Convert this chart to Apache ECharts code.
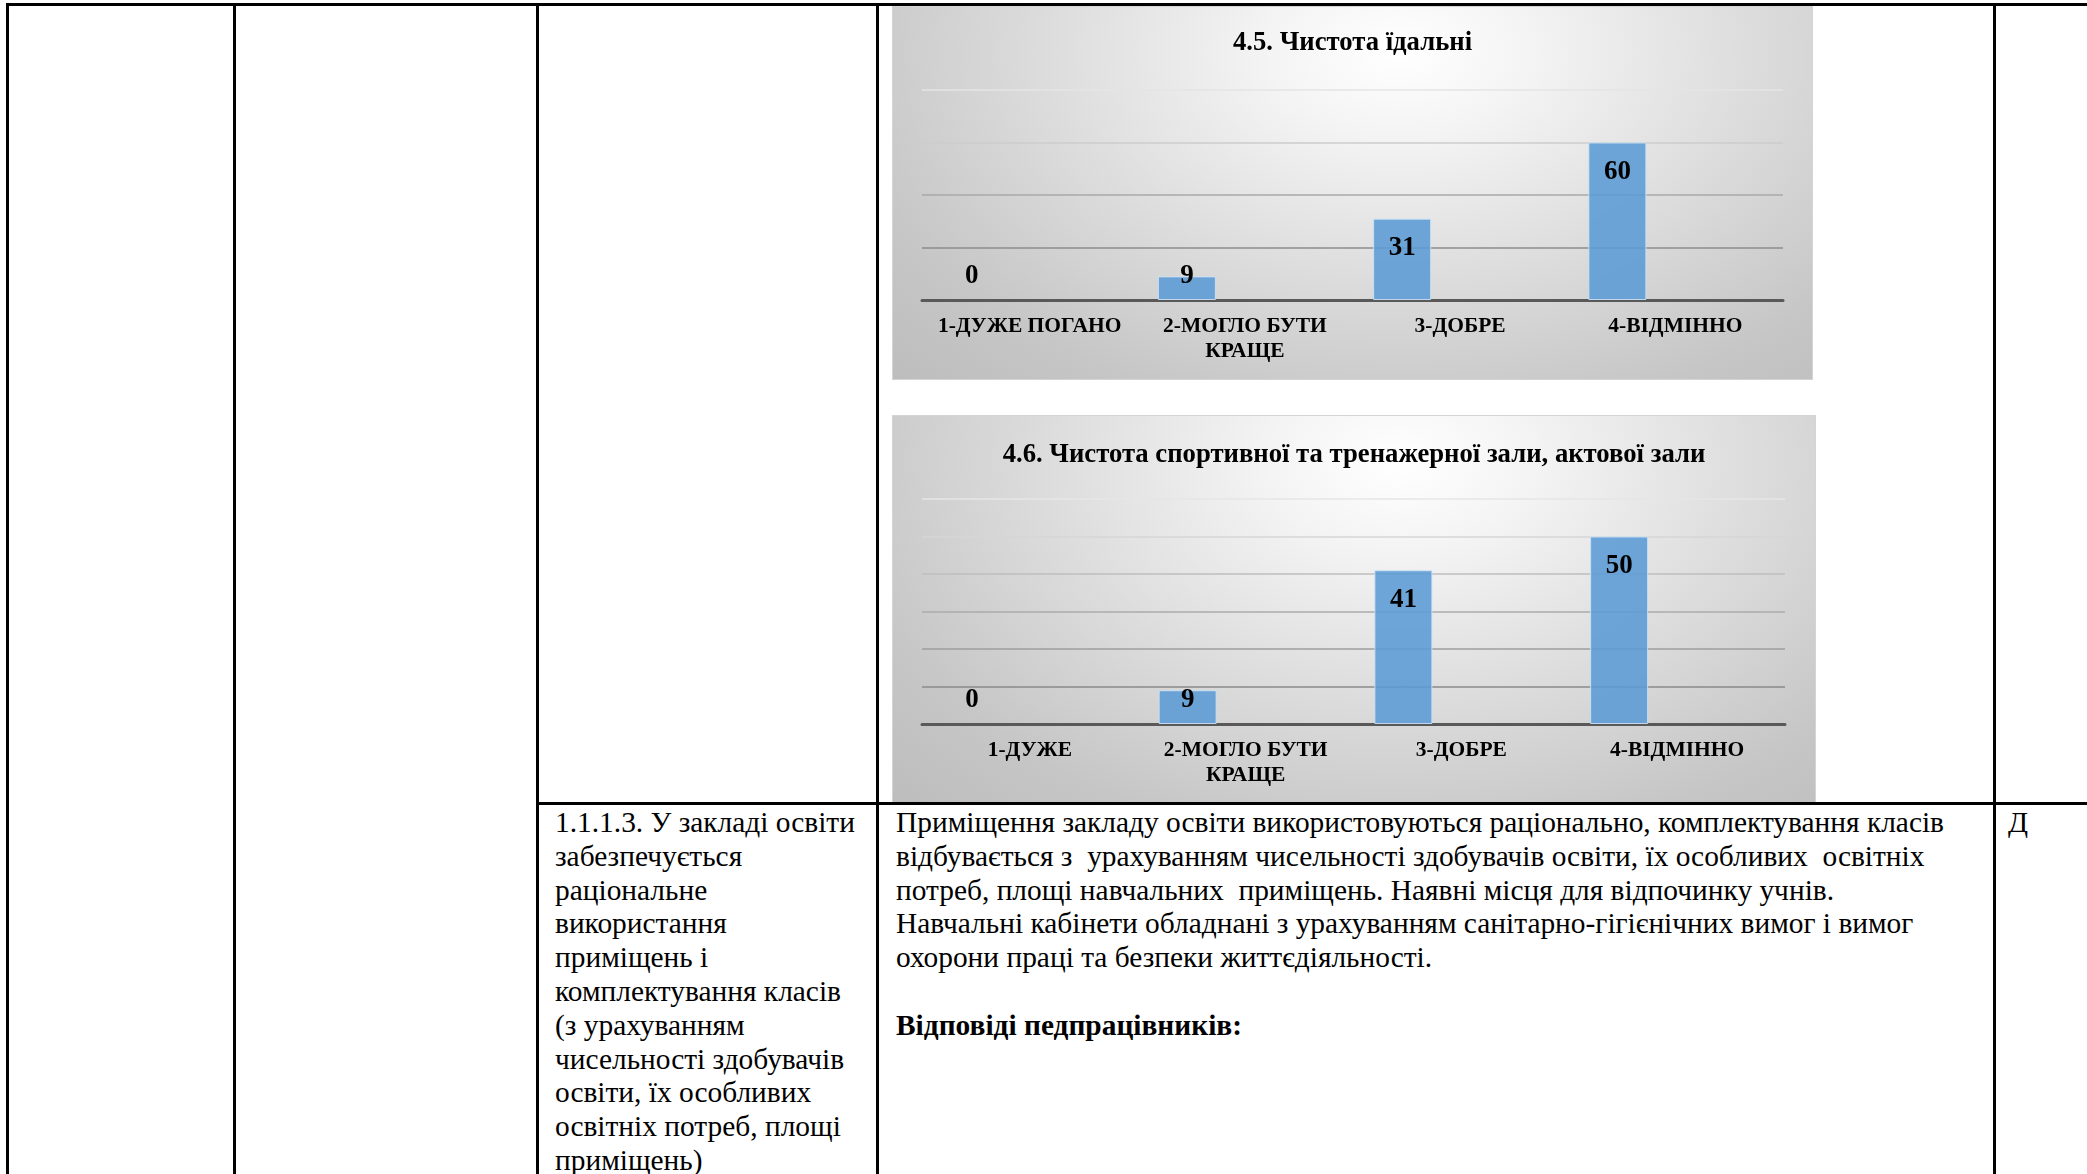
<!DOCTYPE html>
<html><head><meta charset="utf-8">
<script src="https://cdn.jsdelivr.net/npm/echarts@6/dist/echarts.min.js"></script>
<style>
html,body{margin:0;padding:0;background:#fff;width:2087px;height:1174px;overflow:hidden;position:relative;font-family:"Liberation Serif","Times New Roman",serif;}
.ln{position:absolute;background:#000;}
.bg{position:absolute;box-sizing:border-box;border:1px solid #d4d4d4;background:radial-gradient(ellipse farthest-corner at 55% 12%, #ffffff 0%, #f4f4f4 18%, #dcdcdc 50%, #c6c6c6 80%, #bdbdbd 100%);}
.ec{position:absolute;}
.txt{position:absolute;font-size:29.4px;line-height:33.8px;white-space:pre;color:#000;}
</style></head><body>

<div class="bg" style="left:892px;top:6px;width:921px;height:374px;"></div>
<div class="ec" id="c1" style="left:892px;top:6px;width:921px;height:374px;"></div>
<div class="bg" style="left:892px;top:415px;width:924px;height:388px;"></div>
<div class="ec" id="c2" style="left:892px;top:415px;width:924px;height:388px;"></div>

<div class="ln" style="left:6px;top:3px;width:2081px;height:3px;"></div>
<div class="ln" style="left:6px;top:3px;width:3px;height:1171px;"></div>
<div class="ln" style="left:233px;top:3px;width:3px;height:1171px;"></div>
<div class="ln" style="left:536px;top:3px;width:3px;height:1171px;"></div>
<div class="ln" style="left:876px;top:3px;width:3px;height:1171px;"></div>
<div class="ln" style="left:1993px;top:3px;width:3px;height:1171px;"></div>
<div class="ln" style="left:536px;top:802px;width:1551px;height:3px;"></div>

<div class="txt" id="leftText" style="left:555px;top:806px;"></div>
<div class="txt" id="rightText" style="left:896px;top:806px;"></div>
<div class="txt" style="left:2008px;top:806px;">Д</div>

<script>
// ---- data ----
const title1 = '4.5. Чистота їдальні';
const categories1 = ['1-ДУЖЕ ПОГАНО', '2-МОГЛО БУТИ\nКРАЩЕ', '3-ДОБРЕ', '4-ВІДМІННО'];
const values1 = [0, 9, 31, 60];
const yMax1 = 80, yStep1 = 20;

const title2 = '4.6. Чистота спортивної та тренажерної зали, актової зали';
const categories2 = ['1-ДУЖЕ', '2-МОГЛО БУТИ\nКРАЩЕ', '3-ДОБРЕ', '4-ВІДМІННО'];
const values2 = [0, 9, 41, 50];
const yMax2 = 60, yStep2 = 10;

const leftLines = [
  '1.1.1.3. У закладі освіти',
  'забезпечується',
  'раціональне',
  'використання',
  'приміщень і',
  'комплектування класів',
  '(з урахуванням',
  'чисельності здобувачів',
  'освіти, їх особливих',
  'освітніх потреб, площі',
  'приміщень)'
];
const rightLines = [
  'Приміщення закладу освіти використовуються раціонально, комплектування класів',
  'відбувається з  урахуванням чисельності здобувачів освіти, їх особливих  освітніх',
  'потреб, площі навчальних  приміщень. Наявні місця для відпочинку учнів.',
  'Навчальні кабінети обладнані з урахуванням санітарно-гігієнічних вимог і вимог',
  'охорони праці та безпеки життєдіяльності.'
];
const rightBold = 'Відповіді педпрацівників:';

// ---- text ----
function esc(s){return s.replace(/&/g,'&amp;').replace(/</g,'&lt;');}
document.getElementById('leftText').innerHTML = leftLines.map(esc).join('\n');
document.getElementById('rightText').innerHTML = rightLines.map(esc).join('\n') + '\n\n<b>' + esc(rightBold) + '</b>';

// ---- charts ----
const FONT = '"Liberation Serif","Times New Roman",serif';
function makeOption(title, titleTop, cats, vals, yMax, yStep, gridColors, grid) {
  const items = vals.map(v => ({
    value: v,
    itemStyle: v === 0 ? { borderWidth: 0 } : {},
    label: v < yMax * 0.25
      ? { position: 'insideBottom', distance: 10 }
      : { position: 'insideTop', distance: 16 }
  }));
  const empty = cats.map(() => null);
  return {
    animation: false,
    backgroundColor: 'transparent',
    title: {
      text: title, left: 'center', top: titleTop, padding: 0,
      textStyle: { fontFamily: FONT, fontSize: 26.7, fontWeight: 'bold', color: '#000', lineHeight: 30 }
    },
    grid: grid,
    xAxis: {
      type: 'category', data: cats,
      axisLine: { lineStyle: { color: '#595959', width: 3 } },
      axisTick: { show: false },
      axisLabel: { interval: 0, fontFamily: FONT, fontSize: 21.5, fontWeight: 'bold', color: '#000', lineHeight: 25, margin: 14 }
    },
    yAxis: {
      type: 'value', min: 0, max: yMax, interval: yStep,
      axisLabel: { show: false }, axisLine: { show: false }, axisTick: { show: false },
      splitLine: { lineStyle: { color: gridColors, width: 1.5 } }
    },
    series: [
      { type: 'bar', data: items, barWidth: 58, barGap: '0%',
        itemStyle: { color: 'rgba(91,155,213,0.88)', borderColor: 'rgba(205,226,245,0.9)', borderWidth: 1 },
        label: { show: true, formatter: '{c}', fontFamily: FONT, fontSize: 27, fontWeight: 'bold', color: '#000' } },
      { type: 'bar', data: empty, barWidth: 58, barGap: '0%' },
      { type: 'bar', data: empty, barWidth: 58, barGap: '0%' }
    ]
  };
}

const ch1 = echarts.init(document.getElementById('c1'), null, { renderer: 'canvas' });
ch1.setOption(makeOption(title1, 22, categories1, values1, yMax1, yStep1,
  ['#595959', '#8c8c8c', '#a9a9a9', '#cdcdcd', '#e4e4e4'],
  { left: 30, right: 30, top: 84, bottom: 80 }));

const ch2 = echarts.init(document.getElementById('c2'), null, { renderer: 'canvas' });
ch2.setOption(makeOption(title2, 25, categories2, values2, yMax2, yStep2,
  ['#595959', '#8a8a8a', '#9e9e9e', '#ababab', '#bebebe', '#d6d6d6', '#e6e6e6'],
  { left: 30, right: 31, top: 84, bottom: 79 }));
</script>
</body></html>
